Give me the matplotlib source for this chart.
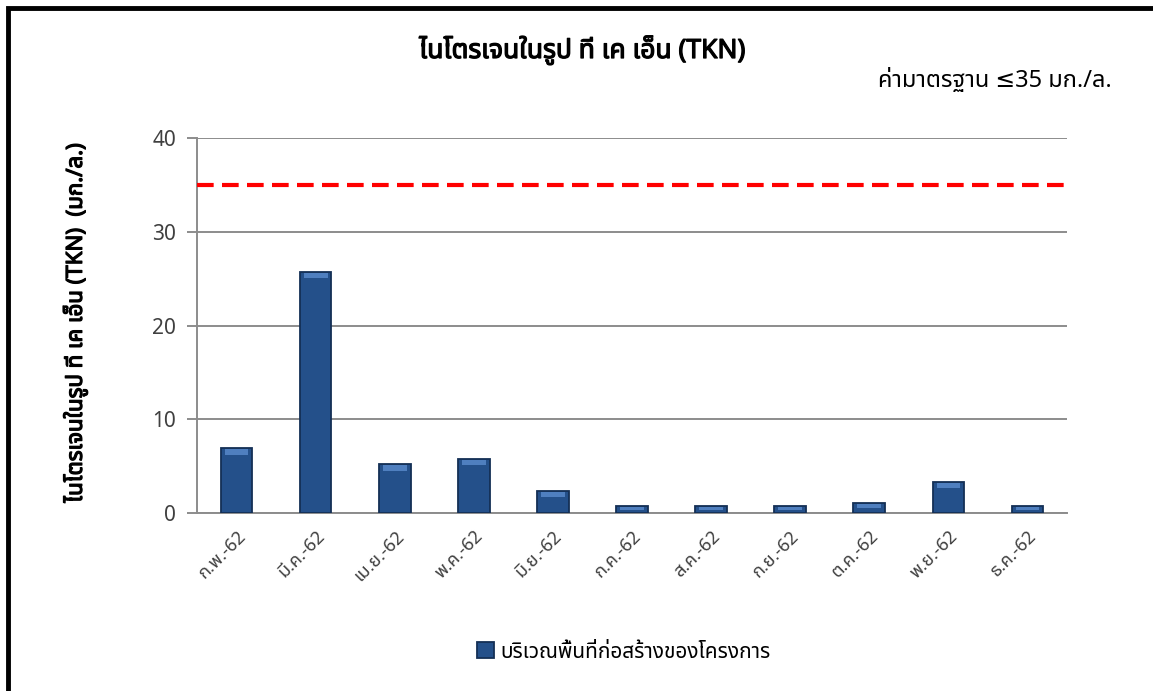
import matplotlib
matplotlib.use("Agg")
import matplotlib.pyplot as plt
from matplotlib import font_manager
from matplotlib.ft2font import FT2Font
from matplotlib.patches import Rectangle
import matplotlib.patheffects as pe

# ---------------- data ----------------
months = ["ก.พ.-62", "มี.ค.-62", "เม.ย.-62", "พ.ค.-62", "มิ.ย.-62", "ก.ค.-62",
          "ส.ค.-62", "ก.ย.-62", "ต.ค.-62", "พ.ย.-62", "ธ.ค.-62"]
tkn_values = [6.9, 25.7, 5.2, 5.8, 2.4, 0.8, 0.8, 0.8, 1.1, 3.3, 0.8]
standard_limit = 35
series_name = "บริเวณพื้นที่ก่อสร้างของโครงการ"
title_text = "ไนโตรเจนในรูป ที เค เอ็น (TKN)"
standard_text = "ค่ามาตรฐาน ≤35 มก./ล."
ylabel_text = "ไนโตรเจนในรูป ที เค เอ็น (TKN)  (มก./ล.)"
y_ticks = [0, 10, 20, 30, 40]

# ---------------- fonts ----------------
thai_fonts = []
seen = set()
for f in font_manager.fontManager.ttflist:
    if f.name in seen:
        continue
    try:
        cm = FT2Font(f.fname).get_charmap()
        if 0x0E01 in cm and 0x0E19 in cm:
            thai_fonts.append(f.name)
            seen.add(f.name)
    except Exception:
        pass
preferred = [n for n in ["Noto Sans Thai", "Noto Sans Thai UI", "Noto Sans", "Tahoma", "Leelawadee UI"] if n in thai_fonts]
families = (preferred + [n for n in thai_fonts if n not in preferred])[:1] + ["DejaVu Sans"]
plt.rcParams["font.family"] = families

bold_fx = [pe.withStroke(linewidth=0.9, foreground="black")]

# ---------------- figure ----------------
W, H = 1153, 691
fig = plt.figure(figsize=(W / 100, H / 100), dpi=100)
fig.patch.set_facecolor("white")

ax = fig.add_axes([197 / W, 1 - 513 / H, (1067 - 197) / W, (513 - 138) / H])

bar_color = "#24508A"
edge_color = "#142F55"
hi_color = "#4F7FBF"
x = list(range(len(months)))
ax.bar(x, tkn_values, width=0.4, color=bar_color, edgecolor=edge_color,
       linewidth=1.3, zorder=3, label=series_name)
# light bevel at the top of every bar
hi_h = [min(0.55, v * 0.45) for v in tkn_values]
ax.bar(x, hi_h, bottom=[v - h - 0.12 for v, h in zip(tkn_values, hi_h)], width=0.3,
       color=hi_color, linewidth=0, zorder=4)

ax.axhline(standard_limit, color="#FF0000", linewidth=3, linestyle=(0, (4, 2)), zorder=5)

ax.set_ylim(0, 40)
ax.set_xlim(-0.5, len(months) - 0.5)
ax.set_yticks(y_ticks)
ax.yaxis.grid(True, color="#8C8C8C", linewidth=1.4, zorder=0)
ax.set_axisbelow(True)
for s in ["top", "right"]:
    ax.spines[s].set_visible(False)
for s in ["left", "bottom"]:
    ax.spines[s].set_color("#8C8C8C")
    ax.spines[s].set_linewidth(1.4)
ax.tick_params(axis="y", colors="#8C8C8C", labelcolor="#404040", labelsize=15,
               length=7, width=1.4, pad=8)
ax.tick_params(axis="x", length=0, labelcolor="#404040", labelsize=13, pad=10)
ax.set_xticks(x)
ax.set_xticklabels(months, rotation=45, ha="right", rotation_mode="anchor")

fig.text(75 / W, 1 - 323 / H, ylabel_text, rotation=90, ha="center", va="center",
         fontsize=16, color="#000000", path_effects=bold_fx)
fig.text(582 / W, 1 - 50 / H, title_text, ha="center", va="center",
         fontsize=19, color="#000000", path_effects=bold_fx)
fig.text(1112 / W, 1 - 80 / H, standard_text, ha="right", va="center",
         fontsize=17, color="#000000")

handles, labels = ax.get_legend_handles_labels()
fig.legend(handles, labels, loc="center", bbox_to_anchor=(624 / W, 1 - 652 / H),
           frameon=False, fontsize=15, handlelength=0.8, handleheight=0.8,
           handletextpad=0.3)

# outer frame (left and top visible)
fig.patches.append(Rectangle((8 / W, -0.1), 1.2, 1 - 8 / H + 0.1, transform=fig.transFigure,
                             fill=False, edgecolor="black", linewidth=3.5))

fig.savefig("out.png", dpi=100)
